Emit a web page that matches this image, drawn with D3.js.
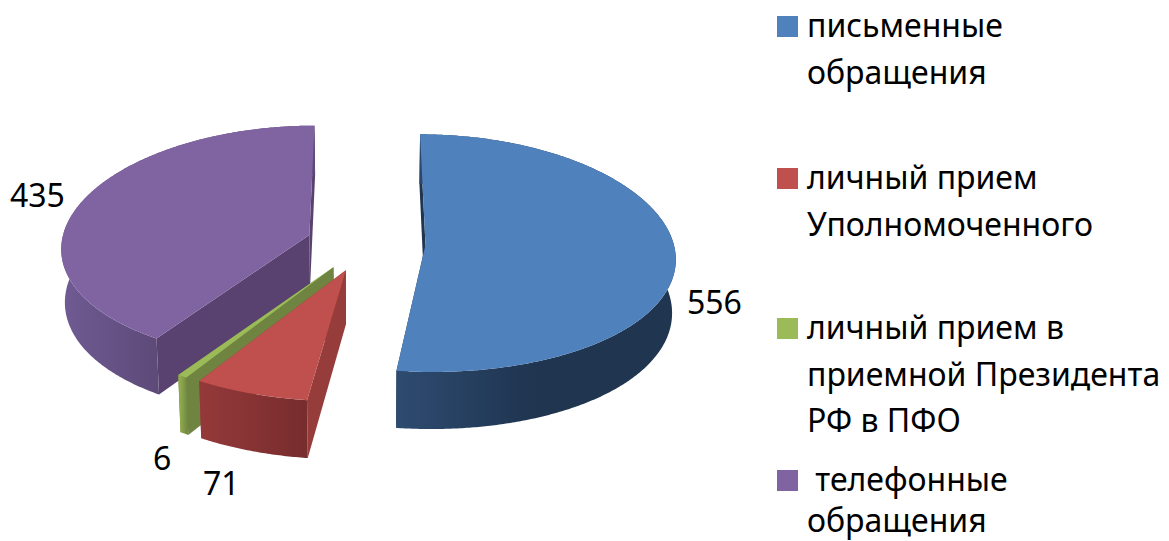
<!DOCTYPE html>
<html>
<head>
<meta charset="utf-8">
<script src="https://cdn.jsdelivr.net/npm/d3@7"></script>
<style>
  body { margin: 0; background: #fff; }
  text { font-family: "Noto Sans", sans-serif; fill: #000; }
</style>
</head>
<body>
<script>
// chart data
var categories = ["письменные обращения", "личный прием Уполномоченного", "личный прием в приемной Президента РФ в ПФО", "телефонные обращения"];
var values = [556, 71, 6, 435];
var legendLines = [
  ["письменные", "обращения"],
  ["личный прием", "Уполномоченного"],
  ["личный прием в", "приемной Президента", "РФ в ПФО"],
  [" телефонные", "обращения"]
];

// colours
var topColors = ["#4f81bd", "#c0504d", "#9bbb59", "#8064a2"];
var cutColors = ["#1f3550", "#963d3c", "#6e8440", "#5a4270"];
var rimLeft = ["#2e4b70", "#94393a", "#8eaa4c", "#6f5a92"];
var rimRight = ["#1f3550", "#772c2d", "#6e8440", "#5d4a78"];

/*
* Global Size Variables
*/
var width = 1169;
var height = 541;
var centerX = 366;
var centerY = 243;
var radiusX = 248;
var radiusY = 118;
var perspectiveX = 0.10; // far side shrinks, near side grows
var perspectiveY = 0.07;
var explode = 0.24;     // in pie radii
var depth = 53;
var bottomShrink = 0.988;
var fontSize = 32;
var lineGap = 46.5;

// baseline of the first line of each legend entry
var legendBase = [37, 189, 339, 491];
var legendBoxX = 777;
var legendBoxSize = 21;
var legendTextX = 807;

var svg = d3.select("body").append("svg")
  .attr("width", width)
  .attr("height", height)
  .style("display", "block");

var color = d3.scaleOrdinal().domain(categories).range(topColors);

var pie = d3.pie().sort(null).value(function (d) { return d; });
var slices = pie(values);

// pie plane to screen
function project(x, z, bottom) {
  var sx = 1 / (1 + perspectiveX * z);
  var sy = 1 / (1 + perspectiveY * z);
  return [
    centerX + radiusX * x * sx * (bottom ? bottomShrink : 1),
    centerY - radiusY * z * sy + (bottom ? depth * sy : 0)
  ];
}

var line = d3.line();
var defs = svg.append("defs");

function drawSlice(d) {
  var i = d.index;
  var mid = (d.startAngle + d.endAngle) / 2;
  var ax = explode * Math.sin(mid);
  var az = explode * Math.cos(mid);

  var angles = d3.range(d.startAngle, d.endAngle, Math.PI / 360).concat([d.endAngle]);
  var rim = angles.map(function (a) { return [ax + Math.sin(a), az + Math.cos(a)]; });

  var g = svg.append("g");

  // rim gradient runs over the part of the rim facing us
  var front = rim.filter(function (p, k) { return Math.cos(angles[k]) <= 0.05; })
    .map(function (p) { return project(p[0], p[1], true)[0]; });
  var gradId = "rim" + i;
  var grad = defs.append("linearGradient")
    .attr("id", gradId)
    .attr("gradientUnits", "userSpaceOnUse")
    .attr("x1", d3.min(front))
    .attr("x2", d3.max(front))
    .attr("y1", 0)
    .attr("y2", 0);
  grad.append("stop").attr("offset", 0).attr("stop-color", rimLeft[i]);
  grad.append("stop").attr("offset", i == 0 ? 0.5 : 1).attr("stop-color", rimRight[i]);

  // the two cut walls
  [0, rim.length - 1].forEach(function (k) {
    var p = rim[k];
    g.append("path")
      .attr("d", line([
        project(ax, az, false),
        project(p[0], p[1], false),
        project(p[0], p[1], true),
        project(ax, az, true)
      ]) + "Z")
      .attr("fill", cutColors[i]);
  });

  // outer wall
  var wall = rim.map(function (p) { return project(p[0], p[1], false); })
    .concat(rim.slice().reverse().map(function (p) { return project(p[0], p[1], true); }));
  g.append("path")
    .attr("d", line(wall) + "Z")
    .attr("fill", "url(#" + gradId + ")");

  // top face
  var face = [project(ax, az, false)].concat(rim.map(function (p) { return project(p[0], p[1], false); }));
  g.append("path")
    .attr("d", line(face) + "Z")
    .attr("fill", color(categories[i]));
}

// back to front
[3, 2, 1, 0].forEach(function (i) { drawSlice(slices[i]); });

// data labels
var labelPos = [[687, 314], [203, 495], [153, 470], [10, 207]];
svg.selectAll("text.value")
  .data(values)
  .enter().append("text")
  .attr("class", "value")
  .attr("x", function (d, i) { return labelPos[i][0]; })
  .attr("y", function (d, i) { return labelPos[i][1]; })
  .style("font-size", fontSize + "px")
  .text(function (d) { return d; });

// legend
categories.forEach(function (c, i) {
  svg.append("rect")
    .attr("x", legendBoxX)
    .attr("y", legendBase[i] - legendBoxSize)
    .attr("width", legendBoxSize)
    .attr("height", legendBoxSize)
    .attr("fill", color(c));

  legendLines[i].forEach(function (t, k) {
    // last line has to stay inside the picture
    var gap = i == 3 ? 41 : lineGap;
    svg.append("text")
      .attr("x", legendTextX)
      .attr("y", legendBase[i] + k * gap)
      .attr("xml:space", "preserve")
      .style("white-space", "pre")
      .style("font-size", fontSize + "px")
      .text(t);
  });
});
</script>
</body>
</html>
